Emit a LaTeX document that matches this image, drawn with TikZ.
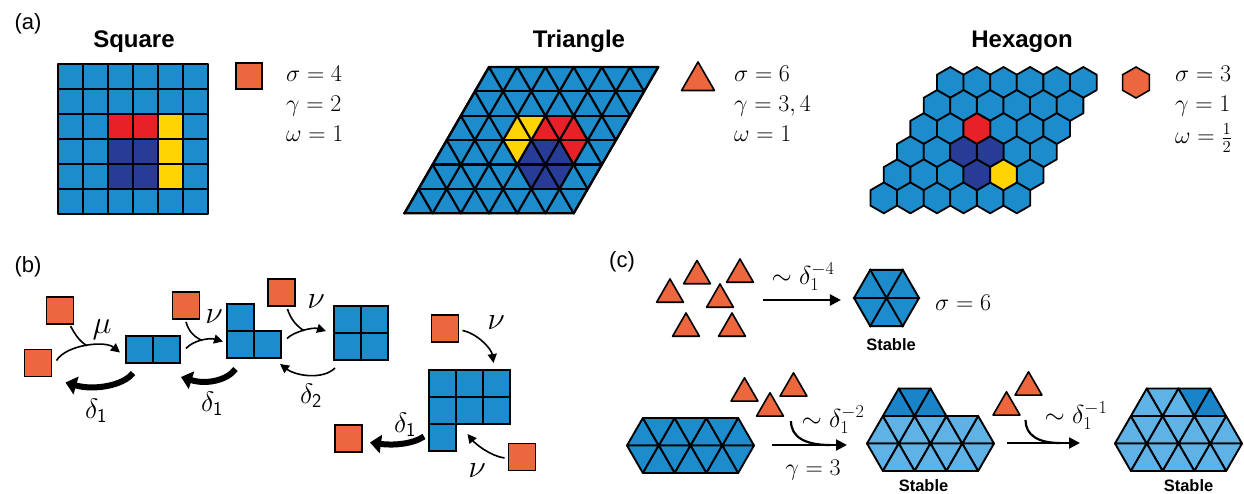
\RequirePackage{fix-cm}
\documentclass[tikz,border=0pt]{standalone}
\usepackage{fontspec}
\newfontfamily\hdfont{Liberation Sans}
\usetikzlibrary{arrows.meta,shapes.geometric,calc}
\definecolor{org}{RGB}{236,102,62}
\definecolor{bla}{RGB}{28,140,205}
\definecolor{dkb}{RGB}{38,60,150}
\definecolor{rd}{RGB}{232,32,40}
\definecolor{yl}{RGB}{255,212,0}
\definecolor{lb}{RGB}{95,178,230}
\definecolor{mb}{RGB}{26,132,202}
\newcommand\uptri[3]{\path[#3] (#1,#2) -- ({#1-1},{#2+1}) -- ({#1+1},{#2+1}) -- cycle;}
\newcommand\dntri[3]{\path[#3] ({#1-1},#2) -- ({#1+1},#2) -- (#1,{#2+1}) -- cycle;}
\newcommand\hexcell[3]{\path[draw,fill=#3,line width=1.8pt,line join=round] ({950.3+26.6*#2-13.3*#1},{82.4+23.1*#1}) +(30:15.4) -- +(90:15.4) -- +(150:15.4) -- +(210:15.4) -- +(270:15.4) -- +(330:15.4) -- cycle;}
\begin{document}
\begin{tikzpicture}[x=1pt,y=-1pt,
  hd/.style={font=\hdfont\bfseries\fontsize{24}{28}\selectfont, inner sep=0},
  stab/.style={font=\hdfont\bfseries\fontsize{16.5}{19}\selectfont, inner sep=0, anchor=base},
  lbl/.style={font=\hdfont\fontsize{22}{25}\selectfont, inner sep=0},
  mth/.style={font=\fontsize{24}{28}\selectfont, inner sep=0, anchor=base west},
  blab/.style={font=\fontsize{28}{32}\selectfont, inner sep=0},
  nlab/.style={font=\fontsize{32}{36}\selectfont, inner sep=0},
  clab/.style={font=\fontsize{26}{30}\selectfont, inner sep=0},
  osq/.style={draw, fill=org, line width=1.6pt, minimum size=27pt, inner sep=0, outer sep=0},
  bsq/.style={draw, fill=bla, line width=1.8pt, minimum size=27pt, inner sep=0, outer sep=0},
  otri/.style={regular polygon, regular polygon sides=3, draw, fill=org, line width=1.6pt, minimum size=31pt, inner sep=0, outer sep=0, line join=round},
  lat/.style={line width=2.4pt, line join=round, line cap=round},
  tlat/.style={draw, line width=1.9pt, line join=round},
  thinarr/.style={line width=1.6pt, -{Triangle[length=9pt,width=9pt]}},
  thinln/.style={line width=1.6pt},
  bigarr/.style={line width=6pt, -{Triangle[length=11pt,width=18pt]}},
  carr/.style={line width=2.2pt, -{Triangle[length=11pt,width=11pt]}}]
\useasboundingbox (0,0) rectangle (1244,494);
\fill[white] (0,0) rectangle (1244,494);

% ---------- panel labels ----------
\node[lbl] (la) at (28,24) {(a)};
\node[lbl] (lbb) at (28,267) {(b)};
\node[lbl] (lc) at (622,262) {(c)};

% ---------- (a) square ----------
\node[hd, anchor=base] (hsq) at (134,48) {Square};
\fill[bla] (58,64) rectangle (208,214);
\fill[rd] (108,114) rectangle (158,139);
\fill[yl] (158,114) rectangle (183,189);
\fill[dkb] (108,139) rectangle (158,189);
\foreach \i in {1,...,5}{
  \draw[lat] ({58+25*\i},64) -- ({58+25*\i},214);
  \draw[lat] (58,{64+25*\i}) -- (208,{64+25*\i});
}
\draw[lat] (58,64) rectangle (208,214);
\node[osq, minimum size=26pt] (lsq) at (249,76) {};
\node[mth] (s1) at (286,82) {$\sigma=4$};
\node[mth] (s2) at (286,112) {$\gamma=2$};
\node[mth] (s3) at (286,142) {$\omega=1$};

% ---------- (a) triangle ----------
\node[hd, anchor=base] (htr) at (579,48) {Triangle};
\begin{scope}[shift={(489,67)}, x=14.1pt, y=-24.4pt]
  \fill[bla] (0,0) -- (12,0) -- (6,6) -- (-6,6) -- cycle;
  \uptri{2}{2}{fill=yl}\dntri{3}{2}{fill=yl}\dntri{2}{3}{fill=yl}
  \uptri{4}{2}{fill=rd}\dntri{5}{2}{fill=rd}\uptri{6}{2}{fill=rd}\dntri{6}{3}{fill=rd}
  \uptri{3}{3}{fill=dkb}\dntri{4}{3}{fill=dkb}\uptri{5}{3}{fill=dkb}
  \uptri{4}{4}{fill=dkb}\dntri{3}{4}{fill=dkb}\dntri{5}{4}{fill=dkb}
  \foreach \r in {0,...,6}{\draw[line width=2.2pt, line cap=round] (-\r,\r) -- ({12-\r},\r);}
  \foreach \c in {0,...,6}{\draw[line width=2.2pt, line cap=round] ({2*\c},0) -- ({2*\c-6},6);}
  \foreach \c in {0,...,6}{\draw[line width=2.2pt, line cap=round] ({2*\c},0) -- ({\c+6},{6-\c});}
  \foreach \r in {1,...,6}{\draw[line width=2.2pt, line cap=round] (-\r,\r) -- ({6-2*\r},6);}
  \draw[line width=2.2pt, line join=round] (0,0) -- (12,0) -- (6,6) -- (-6,6) -- cycle;
\end{scope}
\node[otri, minimum size=38pt] (ltr) at (698,81) {};
\node[mth] (t1l) at (734,82) {$\sigma=6$};
\node[mth] (t2l) at (734,112) {$\gamma=3,4$};
\node[mth] (t3l) at (734,142) {$\omega=1$};

% ---------- (a) hexagon ----------
\node[hd, anchor=base] (hhx) at (1022,48) {Hexagon};
\foreach \r in {0,...,5}{\foreach \c in {0,...,5}{\hexcell{\r}{\c}{bla}}}
\hexcell{2}{2}{rd}
\hexcell{3}{2}{dkb}\hexcell{3}{3}{dkb}\hexcell{4}{3}{dkb}
\hexcell{4}{4}{yl}
\node[regular polygon, regular polygon sides=6, rotate=30, draw, fill=org, line width=1.6pt, minimum size=31pt, inner sep=0] (lhx) at (1136,82.5) {};
\node[mth] (h1l) at (1175,82) {$\sigma=3$};
\node[mth] (h2l) at (1175,112) {$\gamma=1$};
\node[mth] (h3l) at (1175,144) {$\omega=\frac{1}{2}$};

% ---------- (b) ----------
\node[osq] (o1) at (60,310.5) {};
\node[osq] (o2) at (38,363) {};
\node[bsq] (d1) at (139.5,349.5) {};
\node[bsq] (d2) at (166.5,349.5) {};
\node[osq] (o3) at (186,305.5) {};
\node[bsq] (l1) at (240.5,317.5) {};
\node[bsq] (l2) at (240.5,344.5) {};
\node[bsq] (l3) at (267.5,344.5) {};
\node[osq] (o4) at (281.5,292.5) {};
\node[bsq] (q1) at (347.5,319.5) {};
\node[bsq] (q2) at (374.5,319.5) {};
\node[bsq] (q3) at (347.5,346.5) {};
\node[bsq] (q4) at (374.5,346.5) {};
\node[osq] (o5) at (445,328.5) {};
\node[bsq] (g1) at (442.5,383.5) {};
\node[bsq] (g2) at (469.5,383.5) {};
\node[bsq] (g3) at (496.5,383.5) {};
\node[bsq] (g4) at (442.5,410.5) {};
\node[bsq] (g5) at (469.5,410.5) {};
\node[bsq] (g6) at (496.5,410.5) {};
\node[bsq] (g7) at (442.5,437.5) {};
\node[osq] (o6) at (522,457) {};
\node[osq] (o7) at (348.5,438.5) {};

\coordinate (m1) at (87,345.8);
\coordinate (m2) at (202,340.5);
\coordinate (m3) at (304,330.6);
% mu
\draw[thinarr] ($(o2.north east)+(5,11)$) .. controls +(10,-16) and +(-15,-12) .. ($(d1.west)+(-6,3)$);
\draw[thinln] ($(o1.south east)+(-3,2)$) .. controls +(5,9) and +(-8,-5) .. (m1);
\node[nlab] (mu) at (102,330) {$\mu$};
% nu 1
\draw[thinarr] ($(d2.east)+(6,-1)$) .. controls +(7,-8) and +(-14,-4) .. ($(l2.west)+(-4,-3)$);
\draw[thinln] ($(o3.south)+(0,3)$) .. controls +(3,10) and +(-8,-4) .. (m2);
\node[nlab] (nu1) at (214,317) {$\nu$};
% nu 2
\draw[thinarr] ($(l3.east)+(6,-6)$) .. controls +(7,-7) and +(-13,-4) .. ($(q1.south west)+(-8,-2)$);
\draw[thinln] ($(o4.south)+(6,3)$) .. controls +(3,10) and +(-7,-4) .. (m3);
\node[nlab] (nu2) at (316,302) {$\nu$};
% delta 2
\draw[thinarr] ($(q3.south west)+(1,8)$) .. controls +(-12,12) and +(16,12) .. ($(l3.south east)+(-1,6)$);
\node[blab] (de2) at (311,396) {$\delta_{\mathsf{2}}$};
% nu 3, nu 4
\draw[thinarr] ($(o5.east)+(4,2)$) .. controls +(15,3) and +(-2,-14) .. ($(g3.north)+(-3,-7)$);
\node[nlab] (nu3) at (496,323) {$\nu$};
\draw[thinarr] ($(o6.west)+(-4,1)$) .. controls +(-14,-2) and +(8,10) .. ($(g5.south)+(-2,10)$);
\node[nlab] (nu4) at (477,471) {$\nu$};
% thick delta 1 arrows
\draw[bigarr] ($(d1.south west)+(7,10)$) .. controls +(-10,13) and +(28,8) .. ($(o2.south east)+(14,6)$);
\node[blab] (de1a) at (96,411) {$\delta_{\mathsf{1}}$};
\draw[bigarr] ($(l2.south)+(-5,11)$) .. controls +(-8,11) and +(26,8) .. ($(d2.south east)+(1,14)$);
\node[blab] (de1b) at (212,404) {$\delta_{\mathsf{1}}$};
\draw[bigarr] ($(g7.west)+(-5,-1)$) .. controls +(-12,8) and +(22,3) .. ($(o7.east)+(8,4)$);
\node[blab] (de1c) at (405,425) {$\delta_{\mathsf{1}}$};

% ---------- (c) top ----------
\node[otri] (t1) at (697,276) {};
\node[otri] (t2) at (740,274.5) {};
\node[otri] (t3) at (670,294.5) {};
\node[otri] (t4) at (720,299.5) {};
\node[otri] (t5) at (686,328.5) {};
\node[otri] (t6) at (732,328.5) {};
\node[regular polygon, regular polygon sides=6, draw, fill=bla, line width=1.9pt, minimum size=65pt, inner sep=0, line join=round] (hx) at (886.5,298) {};
\draw[line width=1.9pt] (hx.corner 1) -- (hx.corner 4) (hx.corner 2) -- (hx.corner 5) (hx.corner 3) -- (hx.corner 6);
\coordinate (c1s) at (763,300);
\draw[carr] (c1s) -- ($(hx.west)+(-12,2)$);
\node[clab] (k1) at (803,277) {$\sim\delta_1^{-4}$};
\node[stab] (st1) at (891,350) {Stable};
\node[mth] (sg6) at (935,310) {$\sigma=6$};

% ---------- (c) bottom ----------
\begin{scope}[shift={(627,418)}, x=15.875pt, y=-27.5pt]
  \foreach \a in {1,3,5,7}{\uptri{\a}{0}{tlat,fill=bla}\dntri{\a}{1}{tlat,fill=bla}}
  \foreach \a in {2,4,6}{\dntri{\a}{0}{tlat,fill=bla}\uptri{\a}{1}{tlat,fill=bla}}
\end{scope}
\begin{scope}[shift={(867,388.5)}, x=15.875pt, y=-27.5pt]
  \uptri{2}{0}{tlat,fill=mb}\dntri{3}{0}{tlat,fill=mb}\uptri{4}{0}{tlat,fill=mb}
  \foreach \a in {1,3,5,7}{\uptri{\a}{1}{tlat,fill=lb}\dntri{\a}{2}{tlat,fill=lb}}
  \foreach \a in {2,4,6}{\dntri{\a}{1}{tlat,fill=lb}\uptri{\a}{2}{tlat,fill=lb}}
\end{scope}
\begin{scope}[shift={(1115,388.5)}, x=15.875pt, y=-27.5pt]
  \uptri{2}{0}{tlat,fill=lb}\dntri{3}{0}{tlat,fill=lb}\uptri{4}{0}{tlat,fill=lb}
  \dntri{5}{0}{tlat,fill=mb}\uptri{6}{0}{tlat,fill=mb}
  \foreach \a in {1,3,5,7}{\uptri{\a}{1}{tlat,fill=lb}\dntri{\a}{2}{tlat,fill=lb}}
  \foreach \a in {2,4,6}{\dntri{\a}{1}{tlat,fill=lb}\uptri{\a}{2}{tlat,fill=lb}}
\end{scope}
\node[otri] (u1) at (744.5,393.3) {};
\node[otri] (u2) at (793.5,388.3) {};
\node[otri] (u3) at (770,408.3) {};
\node[otri] (v1) at (1006.5,407.3) {};
\node[otri] (v2) at (1028.5,387.3) {};
\coordinate (a1s) at (772,445);
\coordinate (a1e) at (847,445);
\coordinate (m4) at (830,445);
\draw[carr] (a1s) -- (a1e);
\draw[line width=2.2pt] ($(u3.south)+(21,5)$) .. controls +(0,16) and +(-25,0) .. (m4);
\node[clab] (k2) at (833,420) {$\sim\delta_1^{-2}$};
\node[mth, anchor=base] (g3l) at (813,475) {$\gamma=3$};
\node[stab] (st2) at (923.5,491) {Stable};
\coordinate (a2s) at (1007,443);
\coordinate (a2e) at (1080,443);
\coordinate (m5) at (1060,443);
\draw[carr] (a2s) -- (a2e);
\draw[line width=2.2pt] ($(v1.south)+(19,5)$) .. controls +(0,15) and +(-22,0) .. (m5);
\node[clab] (k3) at (1076,416) {$\sim\delta_1^{-1}$};
\node[stab] (st3) at (1188.5,491) {Stable};
\end{tikzpicture}
\end{document}
